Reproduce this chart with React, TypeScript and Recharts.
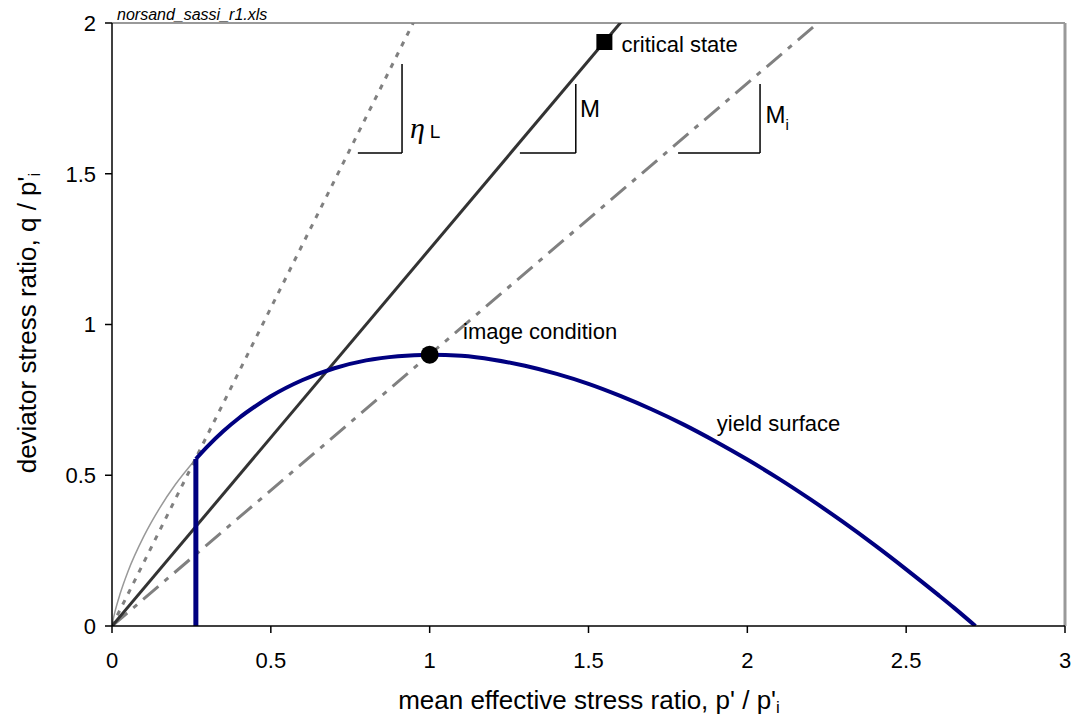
import React from 'react'
import {
	ComposedChart,
	Line,
	Scatter,
	XAxis,
	YAxis,
	ReferenceLine,
	ReferenceDot,
	Label,
} from 'recharts'

const FONT = '"Liberation Sans", Arial, sans-serif'

// axis ticks
const xTicks = [0, 0.5, 1, 1.5, 2, 2.5, 3]
const yTicks = [0, 0.5, 1, 1.5, 2]

// yield surface (p'/p'i, q/p'i)
const yieldP = [0.264, 0.3, 0.35, 0.4, 0.45, 0.5, 0.6, 0.7, 0.8, 0.9, 1.0, 1.1, 1.2, 1.3, 1.4, 1.5, 1.6, 1.7, 1.8, 1.9, 2.0, 2.1, 2.2, 2.3, 2.4, 2.5, 2.6, 2.65, 2.718]
const yieldQ = [0.554, 0.595, 0.646, 0.69, 0.728, 0.762, 0.816, 0.855, 0.881, 0.895, 0.9, 0.896, 0.883, 0.863, 0.836, 0.803, 0.763, 0.718, 0.668, 0.612, 0.552, 0.488, 0.419, 0.346, 0.269, 0.188, 0.104, 0.061, 0]

// inner part of the surface (thin grey)
const innerP = [0, 0.003, 0.01, 0.025, 0.05, 0.1, 0.15, 0.2, 0.264]
const innerQ = [0, 0.018, 0.05, 0.105, 0.18, 0.297, 0.391, 0.47, 0.554]

// vertical cut-off
const cutP = [0.264, 0.264]
const cutQ = [0, 0.554]

// stress ratio lines
const csP = [0, 1.632]
const csQ = [0, 2.04]
const etaLP = [0, 0.965]
const etaLQ = [0, 2.036]
const miP = [0, 2.26]
const miQ = [0, 2.034]

// markers
const critPt = [{ p: 1.55, q: 1.937 }]
const imagePt = [{ p: 1.0, q: 0.9 }]

// slope triangles: [p1, q1, p2, q2]
const triSegs = [
	[0.774, 1.569, 0.913, 1.569],
	[0.913, 1.569, 0.913, 1.864],
	[1.284, 1.569, 1.46, 1.569],
	[1.46, 1.569, 1.46, 1.798],
	[1.782, 1.569, 2.04, 1.569],
	[2.04, 1.569, 2.04, 1.798],
]

const toRows = (ps: number[], qs: number[]) => ps.map((p, i) => ({ p, q: qs[i] }))

const Square = (props: any) => (
	<rect x={props.cx - 8} y={props.cy - 8} width={16} height={16} fill='#000' />
)
const Dot = (props: any) => <circle cx={props.cx} cy={props.cy} r={9} fill='#000' />

const textLabel = (txt: string, size = 22, sub?: string) => (props: any) => {
	const { x, y } = props.viewBox
	return (
		<text x={x} y={y} dominantBaseline='central' fontFamily={FONT} fontSize={size} fill='#000'>
			{txt}
			{sub && (
				<tspan fontSize={15} dy={9}>
					{sub}
				</tspan>
			)}
		</text>
	)
}

const etaLabel = (props: any) => {
	const { x, y } = props.viewBox
	return (
		<text x={x} y={y} dominantBaseline='central' fill='#000'>
			<tspan fontFamily='"Liberation Serif", serif' fontStyle='italic' fontSize={30}>
				η
			</tspan>
			<tspan fontFamily={FONT} fontSize={19} dx={5} dy={4}>
				L
			</tspan>
		</text>
	)
}

const notes = [
	{ p: 1.604, q: 1.93, render: textLabel('critical state') },
	{ p: 1.105, q: 0.978, render: textLabel('image condition') },
	{ p: 1.904, q: 0.673, render: textLabel('yield surface') },
	{ p: 1.473, q: 1.718, render: textLabel('M', 24) },
	{ p: 2.057, q: 1.695, render: textLabel('M', 24, 'i') },
	{ p: 0.938, q: 1.655, render: etaLabel },
]

const App = () => {
	return (
		<div style={{ position: 'absolute', left: 0, top: 0 }}>
			<div
				style={{
					position: 'absolute',
					zIndex: -1,
					left: 117,
					top: 6,
					fontFamily: FONT,
					fontStyle: 'italic',
					fontSize: 16,
					color: '#000',
					whiteSpace: 'pre',
				}}>
				norsand_sassi_r1.xls
			</div>
			<ComposedChart
				width={1075}
				height={719}
				margin={{ top: 23, right: 10, left: 0, bottom: 0 }}>
				<XAxis
					type='number'
					dataKey='p'
					domain={[0, 3]}
					ticks={xTicks}
					allowDataOverflow
					stroke='#000'
					strokeWidth={1.5}
					tickSize={7}
					tickMargin={19}
					height={93}
					tick={{ fill: '#000', fontSize: 22, fontFamily: FONT }}
					tickFormatter={(v) => String(v)}>
					<Label
						content={() => (
							<text x={589} y={700} textAnchor='middle' dominantBaseline='central' fontFamily={FONT} fontSize={26} fill='#000'>
								mean effective stress ratio, p' / p'
								<tspan fontSize={17} dy={7}>
									i
								</tspan>
							</text>
						)}
					/>
				</XAxis>
				<YAxis
					type='number'
					dataKey='q'
					domain={[0, 2]}
					ticks={yTicks}
					allowDataOverflow
					stroke='#000'
					strokeWidth={1.5}
					tickSize={7}
					tickMargin={9}
					width={112}
					tick={{ fill: '#000', fontSize: 22, fontFamily: FONT }}
					tickFormatter={(v) => String(v)}>
					<Label
						content={() => (
							<text
								transform='translate(27,323) rotate(-90)'
								textAnchor='middle'
								dominantBaseline='central'
								fontFamily={FONT}
								fontSize={26}
								fill='#000'>
								deviator stress ratio, q / p'
								<tspan fontSize={17} dy={7}>
									i
								</tspan>
							</text>
						)}
					/>
				</YAxis>
				<ReferenceLine y={2} stroke='#999' strokeWidth={2} />
				<ReferenceLine x={3} stroke='#999' strokeWidth={3} />
				<Line
					data={toRows(innerP, innerQ)}
					dataKey='q'
					type='monotone'
					stroke='#999'
					strokeWidth={1.5}
					dot={false}
					isAnimationActive={false}
				/>
				<Line
					data={toRows(etaLP, etaLQ)}
					dataKey='q'
					stroke='#808080'
					strokeWidth={3}
					strokeDasharray='5 7'
					dot={false}
					isAnimationActive={false}
				/>
				<Line
					data={toRows(miP, miQ)}
					dataKey='q'
					stroke='#808080'
					strokeWidth={3}
					strokeDasharray='20 8 5 8'
					dot={false}
					isAnimationActive={false}
				/>
				<Line
					data={toRows(csP, csQ)}
					dataKey='q'
					stroke='#333'
					strokeWidth={3}
					dot={false}
					isAnimationActive={false}
				/>
				<Line
					data={toRows(cutP, cutQ)}
					dataKey='q'
					stroke='#000080'
					strokeWidth={5}
					dot={false}
					isAnimationActive={false}
				/>
				<Line
					data={toRows(yieldP, yieldQ)}
					dataKey='q'
					type='monotone'
					stroke='#000080'
					strokeWidth={4}
					dot={false}
					isAnimationActive={false}
				/>
				{triSegs.map((s, i) => (
					<ReferenceLine
						key={i}
						segment={[
							{ x: s[0], y: s[1] },
							{ x: s[2], y: s[3] },
						]}
						stroke='#000'
						strokeWidth={1.5}
					/>
				))}
				<Scatter data={critPt} shape={Square} isAnimationActive={false} />
				<Scatter data={imagePt} shape={Dot} isAnimationActive={false} />
				{notes.map((n, i) => (
					<ReferenceDot key={i} x={n.p} y={n.q} r={0} fill='none' stroke='none' label={{ content: n.render }} />
				))}
			</ComposedChart>
		</div>
	)
}

export default App
